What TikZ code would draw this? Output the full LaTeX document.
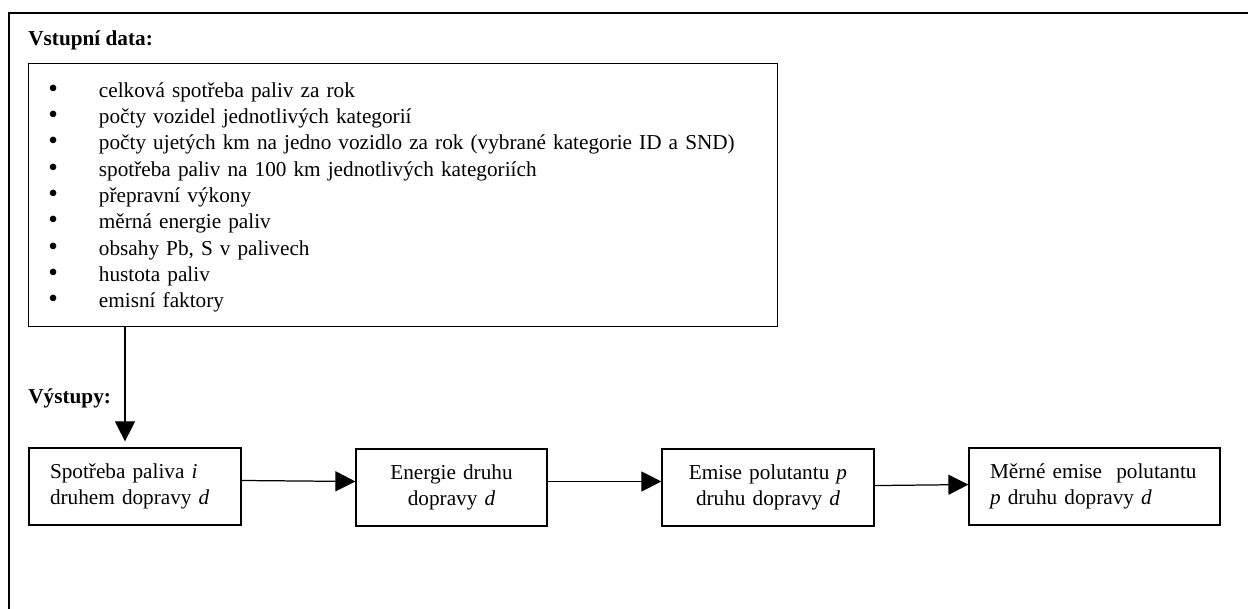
\documentclass[tikz,border=0pt]{standalone}
\usepackage{fontspec}
\setmainfont{Liberation Serif}
\usetikzlibrary{arrows.meta, calc}
\newcommand{\odr}[1]{\makebox[28.6pt][l]{\fontsize{15.5}{0}\selectfont\textbullet}#1}
\tikzset{
  krok/.style={
    draw,
    line width=0.7pt,
    minimum height=43.5pt,
    inner xsep=11.9pt,
    inner ysep=0pt,
    font=\fontsize{12}{14.75}\selectfont},
  sipka/.style={
    -{Triangle[length=11.3pt, width=11.3pt]},
    line width=0.7pt}
  }

\begin{document}
\begin{tikzpicture}[x=0.565pt, y=-0.565pt]
    \useasboundingbox (0,0) rectangle (1248,608);
    \draw [line width=0.75pt] (1260,13) -- (9,13) -- (9,620);
    \node[anchor=base west, inner sep=0, font=\fontsize{12}{14.75}\selectfont\bfseries] (hlavicka) at (28,45) {Vstupní data:};
    \node[draw, line width=0.8pt, anchor=north west, inner sep=0, minimum width=423.2pt, minimum height=148.6pt] (vstup) at (28,63) {};
    \node[anchor=base west, inner sep=0, text width=400pt, align=left, font=\fontsize{12}{14.9}\selectfont] (seznam) at (48,97) {
      \odr{celková spotřeba paliv za rok}\\
      \odr{počty vozidel jednotlivých kategorií}\\
      \odr{počty ujetých km na jedno vozidlo za rok (vybrané kategorie ID a SND)}\\
      \odr{spotřeba paliv na 100 km jednotlivých kategoriích}\\
      \odr{přepravní výkony}\\
      \odr{měrná energie paliv}\\
      \odr{obsahy Pb, S v palivech}\\
      \odr{hustota paliv}\\
      \odr{emisní faktory}};
    \node[anchor=base west, inner sep=0, font=\fontsize{12}{14.75}\selectfont\bfseries] (vystupy) at (28,403) {Výstupy:};
    \node[krok, minimum width=119.8pt, text width=96pt, align=left] (spotreba) at (135,486.5) {Spotřeba paliva \textit{i}\\ druhem dopravy \textit{d}};
    \node[krok, minimum width=107.9pt, text width=84pt, align=center] (energie) at (451.5,487.5) {Energie druhu\\ dopravy \textit{d}};
    \node[krok, minimum width=119.8pt, text width=96pt, align=center] (emise) at (768,487.5) {Emise polutantu \textit{p}\\ druhu dopravy \textit{d}};
    \node[krok, minimum width=141.8pt, text width=118pt, align=left] (merne) at (1094.5,486.5) {Měrné emise\ \ polutantu\\ \textit{p} druhu dopravy \textit{d}};
    \coordinate (odbocka) at (125,326);
    \draw [sipka, shorten >=3.4pt] (odbocka) -- (odbocka |- spotreba.north);
    \path [sipka]
    ([yshift=3.4pt]spotreba.east) edge ([yshift=3.4pt]energie.west)
    ([yshift=3.4pt]energie.east) edge ([yshift=3.4pt]emise.west)
    ([yshift=1.1pt]emise.east) edge ([yshift=1.1pt]merne.west);
  \end{tikzpicture}
\end{document}
